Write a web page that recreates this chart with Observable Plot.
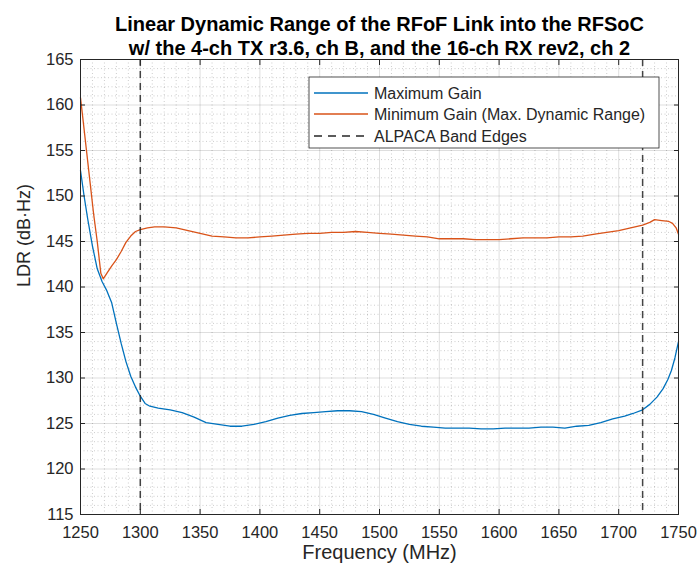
<!DOCTYPE html>
<html>
<head>
<meta charset="utf-8">
<script src="https://cdn.jsdelivr.net/npm/d3@7"></script>
<script src="https://cdn.jsdelivr.net/npm/@observablehq/plot@0.6"></script>
<style>
  html, body { margin: 0; padding: 0; background: #fff; }
  #chart svg { font-family: "Liberation Sans", Arial, Helvetica, sans-serif; }
</style>
</head>
<body>
<div id="chart"></div>
<script>
const titleLines = [
  "Linear Dynamic Range of the RFoF Link into the RFSoC",
  "w/ the 4-ch TX r3.6, ch B, and the 16-ch RX rev2, ch 2"
];
const xLabel = "Frequency (MHz)";
const yLabel = "LDR (dB·Hz)";
const seriesNames = ["Maximum Gain", "Minimum Gain (Max. Dynamic Range)", "ALPACA Band Edges"];
const seriesColors = ["#0072BD", "#D95319", "#262626"];

const xTicks = [1250, 1300, 1350, 1400, 1450, 1500, 1550, 1600, 1650, 1700, 1750];
const yTicks = [115, 120, 125, 130, 135, 140, 145, 150, 155, 160, 165];
const bandEdges = [1300, 1720];

const maxGainFreq = [1250,1253,1256,1260,1264,1268,1272,1276,1280,1284,1288,1292,1296,1300,1304,1308,1315,1325,1335,1345,1355,1365,1375,1385,1395,1405,1415,1425,1435,1445,1455,1465,1475,1485,1495,1505,1515,1525,1535,1545,1555,1565,1575,1585,1595,1605,1615,1625,1635,1645,1655,1665,1675,1685,1695,1705,1712,1720,1726,1732,1737,1741,1744,1747,1750];
const maxGainLDR = [152.8,150,147.5,144.5,142,140.6,139.6,138.3,136,133.8,131.8,130.2,129,128,127.2,126.9,126.7,126.5,126.2,125.7,125.1,124.9,124.7,124.7,124.9,125.2,125.6,125.9,126.1,126.2,126.3,126.4,126.4,126.3,126.0,125.6,125.2,124.9,124.7,124.6,124.5,124.5,124.5,124.4,124.4,124.5,124.5,124.5,124.6,124.6,124.5,124.7,124.8,125.1,125.5,125.8,126.1,126.5,127.1,127.9,128.8,129.8,130.8,132.2,134];

const minGainFreq = [1250,1252,1255,1258,1261,1264,1267,1269,1272,1276,1280,1284,1288,1292,1296,1300,1306,1312,1320,1330,1340,1350,1360,1370,1380,1390,1400,1410,1420,1430,1440,1450,1460,1470,1480,1490,1500,1510,1520,1530,1540,1550,1560,1570,1580,1590,1600,1610,1620,1630,1640,1650,1660,1670,1680,1690,1700,1710,1720,1726,1730,1736,1742,1745,1748,1750];
const minGainLDR = [160.8,158.5,155,151.5,148,145,141.5,140.9,141.5,142.3,143,143.9,144.9,145.6,146.1,146.3,146.5,146.6,146.6,146.5,146.2,145.9,145.6,145.5,145.4,145.4,145.5,145.6,145.7,145.8,145.9,145.9,146.0,146.0,146.1,146.0,145.9,145.8,145.7,145.6,145.5,145.3,145.3,145.3,145.2,145.2,145.2,145.3,145.4,145.4,145.4,145.5,145.5,145.6,145.8,146.0,146.2,146.5,146.8,147.1,147.4,147.3,147.2,147.0,146.5,145.8];

const maxGain = maxGainFreq.map((f, i) => ({f, v: maxGainLDR[i]}));
const minGain = minGainFreq.map((f, i) => ({f, v: minGainLDR[i]}));
const xMinor = d3.range(1250, 1751, 10).filter(d => !xTicks.includes(d));
const yMinor = d3.range(115, 166, 1).filter(d => !yTicks.includes(d));

const W = 699, H = 575;
const mL = 80, mR = 21, mT = 59, mB = 61;
const tickFont = 16.5;
const fmt = d => String(d);

const plot = Plot.plot({
  width: W, height: H,
  marginLeft: mL, marginRight: mR, marginTop: mT, marginBottom: mB,
  x: {domain: [1250, 1750]},
  y: {domain: [115, 165]},
  style: {fontFamily: '"Liberation Sans", Arial, sans-serif', background: "#fff", overflow: "visible"},
  marks: [
    Plot.gridX(xMinor, {stroke: "#000", strokeOpacity: 0.2, strokeDasharray: "1,2.5"}),
    Plot.gridY(yMinor, {stroke: "#000", strokeOpacity: 0.2, strokeDasharray: "1,2.5"}),
    Plot.gridX(xTicks, {stroke: "#000", strokeOpacity: 0.13}),
    Plot.gridY(yTicks, {stroke: "#000", strokeOpacity: 0.13}),
    Plot.line(maxGain, {x: "f", y: "v", stroke: seriesColors[0], strokeWidth: 1.3}),
    Plot.line(minGain, {x: "f", y: "v", stroke: seriesColors[1], strokeWidth: 1.3}),
    Plot.ruleX(bandEdges, {stroke: seriesColors[2], strokeWidth: 1.5, strokeDasharray: "7,5", strokeOpacity: 0.85}),
    Plot.frame({stroke: "#262626", strokeWidth: 1}),
    Plot.axisX(xTicks, {anchor: "bottom", tickSize: 0, tickPadding: 12, fontSize: tickFont, fill: "#262626", label: null, tickFormat: fmt}),
    Plot.axisY(yTicks, {anchor: "left", tickSize: 0, tickPadding: 7, fontSize: tickFont, fill: "#262626", label: null, tickFormat: fmt}),
    Plot.axisX(xTicks, {anchor: "bottom", tickSize: -5, text: null, label: null, stroke: "#262626"}),
    Plot.axisX(xTicks, {anchor: "top", tickSize: -5, text: null, label: null, stroke: "#262626"}),
    Plot.axisY(yTicks, {anchor: "left", tickSize: -5, text: null, label: null, stroke: "#262626"}),
    Plot.axisY(yTicks, {anchor: "right", tickSize: -5, text: null, label: null, stroke: "#262626"}),
    Plot.text([xLabel], {frameAnchor: "bottom", dy: 44, fontSize: 20, fill: "#262626"}),
    Plot.text([yLabel], {frameAnchor: "left", dx: -56, rotate: -90, fontSize: 18, fill: "#262626"}),
    Plot.text([titleLines[0]], {frameAnchor: "top", dy: -43, fontSize: 20, fontWeight: "bold", fill: "#000"}),
    Plot.text([titleLines[1]], {frameAnchor: "top", dy: -19, fontSize: 20, fontWeight: "bold", fill: "#000"})
  ]
});
document.getElementById("chart").appendChild(plot);

// Legend (drawn into the same SVG)
const svg = d3.select(plot);
const lg = svg.append("g").attr("class", "legend").attr("text-anchor", "start");
const lx = 309, ly = 77, lw = 350, lh = 71;
lg.append("rect").attr("x", lx).attr("y", ly).attr("width", lw).attr("height", lh)
  .attr("fill", "#fff").attr("stroke", "#262626").attr("stroke-width", 0.8);
const rowsY = [93, 114, 136];
seriesNames.forEach((name, i) => {
  lg.append("line").attr("x1", lx + 5).attr("x2", lx + 59).attr("y1", rowsY[i]).attr("y2", rowsY[i])
    .attr("stroke", seriesColors[i]).attr("stroke-width", i === 2 ? 1.5 : 1.3)
    .attr("stroke-dasharray", i === 2 ? "8,6" : null);
  lg.append("text").attr("x", lx + 65).attr("y", rowsY[i]).attr("dy", "0.35em")
    .attr("text-anchor", "start")
    .attr("font-size", 16).attr("fill", "#262626").text(name);
});
</script>
</body>
</html>
